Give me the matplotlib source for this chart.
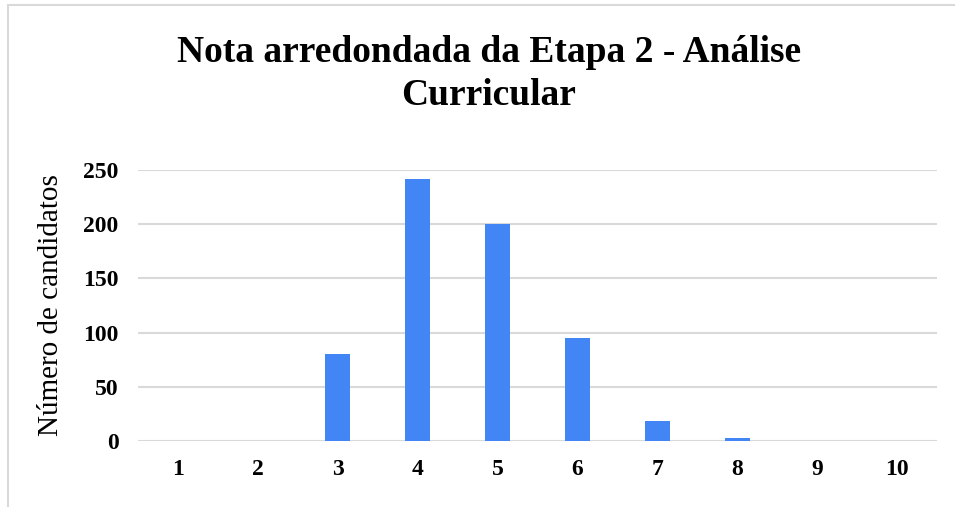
import matplotlib
matplotlib.use("Agg")
import matplotlib.pyplot as plt
from matplotlib.patches import Rectangle

notas = [1, 2, 3, 4, 5, 6, 7, 8, 9, 10]
candidatos = [0, 0, 80, 242, 200, 95, 18, 3, 0, 0]
yticks = [0, 50, 100, 150, 200, 250]

plt.rcParams['font.family'] = ['Liberation Serif', 'DejaVu Serif']

fig = plt.figure(figsize=(9.55, 5.07), dpi=100)
ax = fig.add_axes([0.1445, 0.1302, 0.8366, 0.5345])

# light frame around the chart area
fig.patches.append(Rectangle((8 / 955, -0.1), 1.2, 1 - 5 / 507 + 0.1,
                             transform=fig.transFigure, fill=False,
                             edgecolor='#d9d9d9', linewidth=1.5))

ax.bar(notas, candidatos, width=0.31, color='#4285f4', zorder=3)

ax.set_xlim(0.5, 10.5)
ax.set_ylim(0, 250)
ax.set_yticks(yticks)
ax.set_xticks(notas)
ax.grid(axis='y', color='#d9d9d9', linewidth=1.5, zorder=0)
ax.set_axisbelow(True)
for s in ax.spines.values():
    s.set_visible(False)
ax.tick_params(length=0, labelsize=17)
ax.tick_params(axis='y', pad=14)
ax.tick_params(axis='x', pad=13)
for lbl in ax.get_xticklabels() + ax.get_yticklabels():
    lbl.set_fontweight('bold')

ax.set_ylabel('Número de candidatos', fontsize=21, labelpad=14)

fig.text(0.512, 0.854, 'Nota arredondada da Etapa 2 - Análise\nCurricular',
         ha='center', va='center', fontsize=27, fontweight='bold',
         linespacing=1.3)

fig.savefig('out.png', dpi=100)
